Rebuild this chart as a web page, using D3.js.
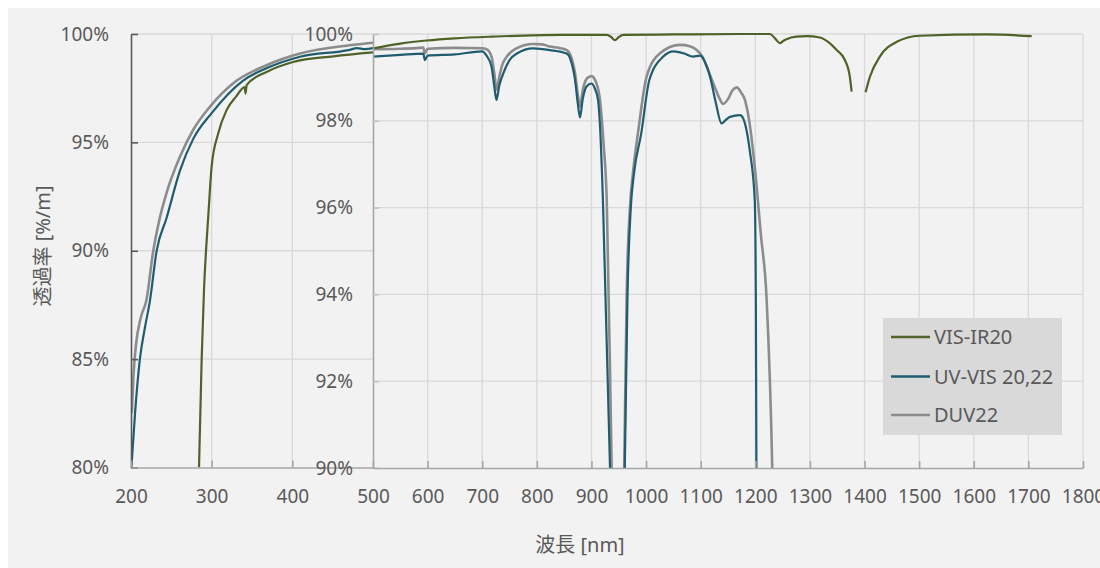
<!DOCTYPE html>
<html><head><meta charset="utf-8">
<script src="https://cdn.jsdelivr.net/npm/d3@7/dist/d3.min.js"></script>
<style>
body{margin:0;background:#fff;}
svg{display:block;}
text{font-family:"Noto Sans","Noto Sans CJK JP",sans-serif;fill:#595959;}
</style></head>
<body>
<svg id="chart" width="1100" height="568"></svg>
<script>
// ---------- DATA ----------
const seriesNames = ["VIS-IR20", "UV-VIS 20,22", "DUV22"];
const mainXTicks = [200, 300, 400];
const insetXTicks = [500,600,700,800,900,1000,1100,1200,1300,1400,1500,1600,1700,1800];
const mainYTicks = [80, 85, 90, 95, 100];
const insetYTicks = [90, 92, 94, 96, 98, 100];

// main panel (200-500 nm, 80-100 %)
const visIrMain = [[284.3,80],[287.6,85],[290.5,88.2],[293,90],[295.8,91.6],[300,93.9],[308,95.4],[318.6,96.5],[330,97.1],[341,97.55],[342,97.25],[343.5,97.65],[368,98.25],[401,98.71],[451,98.97],[500,99.15]];
const uvVisMain = [[200.5,80],[205,82.5],[211,85],[217,86.4],[223.5,87.7],[231.8,90],[244,91.5],[260.7,93.7],[277,95.15],[300,96.35],[339,97.85],[370,98.45],[409.5,98.95],[471,99.27],[480,99.35],[490,99.3],[500,99.35]];
const duvMain = [[201,82.5],[203,84.2],[206,85.6],[212,86.9],[219,87.7],[227.6,90],[235,91.4],[244,92.66],[260.7,94.34],[277,95.57],[298,96.65],[326.7,97.73],[368,98.56],[409.5,99.1],[471,99.48],[500,99.6]];

// inset panel (500-1800 nm, 90-100 %), null = gap
const visIrInset = [[500,99.67],[550,99.78],[598,99.85],[650,99.9],[720,99.94],[842,99.98],[928,99.98],[936,99.93],[943,99.86],[950,99.93],[958,99.98],[1050,99.99],[1172,100],[1227,100],[1236,99.9],[1245,99.79],[1251,99.84],[1257,99.88],[1275,99.94],[1294,99.95],[1318,99.92],[1335,99.8],[1349,99.63],[1364,99.4],[1373,99.02],[1376.4,98.67],null,[1402,98.66],[1410,99.02],[1428,99.48],[1459,99.82],[1501,99.96],[1624,99.99],[1706,99.95]];
const uvVisInset = [[500,99.48],[550,99.52],[592,99.55],[595,99.4],[600,99.5],[650,99.53],[700,99.6],[708,99.5],[717,99.25],[722,98.8],[726,98.48],[731,98.8],[741,99.17],[750,99.4],[763.6,99.55],[793.5,99.67],[824,99.63],[854.6,99.55],[862,99.4],[870,98.94],[875,98.4],[879,98.08],[884,98.5],[891,98.79],[900,98.86],[906,98.75],[912,98.48],[916,97.8],[921,96.17],[934,90],[937,88],null,[958,88],[961,90],[966,94],[972,96],[978,96.8],[991,97.7],[1006,98.94],[1031.5,99.48],[1050,99.6],[1070,99.55],[1086,99.48],[1099,99.5],[1108,99.35],[1117,99.02],[1128,98.4],[1138,97.94],[1146,98.02],[1153.6,98.09],[1172,98.13],[1178,98.05],[1181,97.94],[1190,97.3],[1199,96.17],[1201,93.87],[1202,90],[1203,88]];
const duvInset = [[500,99.65],[550,99.66],[585,99.68],[592,99.69],[595,99.55],[600,99.66],[650,99.68],[700,99.67],[708,99.65],[717,99.48],[722,99.1],[726.5,98.71],[731,99.0],[737,99.3],[745,99.48],[760,99.65],[793.5,99.77],[810,99.76],[824,99.71],[840,99.68],[854.6,99.63],[862,99.5],[870,99.09],[875,98.6],[879,98.32],[884,98.7],[892,98.98],[900,99.03],[908,98.9],[915.6,98.48],[922,97.5],[928,96.17],[937,90],[940,88],null,[957,88],[960,90],[964.5,94],[970.5,96],[976,96.8],[986,97.8],[1001,99.02],[1025,99.55],[1062,99.75],[1080,99.72],[1092.6,99.63],[1102,99.5],[1111,99.25],[1125,98.8],[1135,98.5],[1141,98.39],[1150,98.5],[1158,98.7],[1166,98.77],[1174,98.65],[1181,98.48],[1190,97.9],[1199,96.94],[1210,95.4],[1220.8,93.87],[1231,90],[1234,88]];

const colors = ["#4f6228", "#1f5c6e", "#8c8c8c"];

// ---------- DRAW ----------
const svg = d3.select("#chart");
svg.append("rect").attr("x",8).attr("y",8).attr("width",1092).attr("height",560).attr("fill","#f2f2f2");

const xMain = d3.scaleLinear([200,500],[131,373]);
const yMain = d3.scaleLinear([80,100],[467.5,34]);
const xIn = d3.scaleLinear([500,1800],[373,1083]);
const yIn = d3.scaleLinear([90,100],[468,34]);

const defs = svg.append("defs");
defs.append("clipPath").attr("id","clipMain").append("rect")
  .attr("x",xMain(200)).attr("y",20).attr("width",xMain(500)-xMain(200)).attr("height",yMain(80)-20);
defs.append("clipPath").attr("id","clipIn").append("rect")
  .attr("x",xIn(500)).attr("y",yIn(100)-3).attr("width",xIn(1800)-xIn(500)).attr("height",yIn(90)-yIn(100)+3);

const grid = "#d9d9d9";
// main gridlines
const gMain = svg.append("g");
gMain.selectAll(".hy").data(mainYTicks.filter(d=>d>80)).join("line")
  .attr("x1",xMain(200)).attr("x2",xMain(500)).attr("y1",d=>yMain(d)).attr("y2",d=>yMain(d))
  .attr("stroke",grid).attr("stroke-width",1.3);
gMain.selectAll(".vx").data([300,400]).join("line")
  .attr("x1",d=>xMain(d)).attr("x2",d=>xMain(d)).attr("y1",yMain(100)).attr("y2",yMain(80))
  .attr("stroke",grid).attr("stroke-width",1.3);

const lineMain = d3.line().defined(d=>d!==null).x(d=>xMain(d[0])).y(d=>yMain(d[1])).curve(d3.curveMonotoneX);
const lineIn = d3.line().defined(d=>d!==null).x(d=>xIn(d[0])).y(d=>yIn(d[1])).curve(d3.curveMonotoneX);

const mainSeries = [duvMain, uvVisMain, visIrMain];
const mainColors = [colors[2], colors[1], colors[0]];
const mainWidths = [2.6, 2.2, 2.2];
mainSeries.forEach((s,i)=>{
  svg.append("path").attr("d",lineMain(s)).attr("fill","none")
    .attr("stroke",mainColors[i]).attr("stroke-width",mainWidths[i]).attr("clip-path","url(#clipMain)");
});

const numFmt = d3.format("d");

// main axes
const axL = svg.append("g").attr("transform",`translate(${xMain(200)},0)`)
  .call(d3.axisLeft(yMain).tickValues(mainYTicks).tickSizeInner(-7).tickSizeOuter(0).tickPadding(22).tickFormat(d=>d+"%"));
axL.select(".domain").attr("stroke","#595959").attr("stroke-width",1.6);
axL.selectAll(".tick line").attr("stroke","#595959").attr("stroke-width",1.6);
axL.selectAll("text").attr("font-size",19).attr("fill","#595959").attr("font-family",null);

const axB = svg.append("g").attr("transform",`translate(0,${yMain(80)})`)
  .call(d3.axisBottom(xMain).tickValues(mainXTicks).tickSizeInner(-7).tickSizeOuter(0).tickPadding(22).tickFormat(numFmt));
axB.select(".domain").attr("stroke","#a6a6a6").attr("stroke-width",1.6);
axB.selectAll(".tick line").attr("stroke","#a6a6a6").attr("stroke-width",1.6);
axB.selectAll("text").attr("font-size",19).attr("fill","#595959").attr("font-family",null);

// ---------- INSET ----------
svg.append("rect").attr("x",xIn(500)).attr("y",yIn(100)).attr("width",xIn(1800)-xIn(500)).attr("height",yIn(90)-yIn(100)).attr("fill","#f2f2f2");
const gIn = svg.append("g");
gIn.selectAll(".hy").data(insetYTicks.filter(d=>d>90)).join("line")
  .attr("x1",xIn(500)).attr("x2",xIn(1800)).attr("y1",d=>yIn(d)).attr("y2",d=>yIn(d))
  .attr("stroke",grid).attr("stroke-width",1.3);
gIn.selectAll(".vx").data(insetXTicks.filter(d=>d>500)).join("line")
  .attr("x1",d=>xIn(d)).attr("x2",d=>xIn(d)).attr("y1",yIn(100)).attr("y2",yIn(90))
  .attr("stroke",grid).attr("stroke-width",1.3);

const inSeries = [visIrInset, uvVisInset, duvInset];
const inWidths = [2.2, 2.2, 2.6];
// draw gray first, then teal, then green on top
[2,1,0].forEach(i=>{
  svg.append("path").attr("d",lineIn(inSeries[i])).attr("fill","none")
    .attr("stroke",colors[i]).attr("stroke-width",inWidths[i]).attr("clip-path","url(#clipIn)");
});

const iaL = svg.append("g").attr("transform",`translate(${xIn(500)},0)`)
  .call(d3.axisLeft(yIn).tickValues(insetYTicks).tickSizeInner(-6).tickSizeOuter(0).tickPadding(20).tickFormat(d=>d+"%"));
iaL.select(".domain").attr("stroke","#a6a6a6").attr("stroke-width",1.6);
iaL.selectAll(".tick line").attr("stroke","#bfbfbf").attr("stroke-width",1.4);
iaL.selectAll("text").attr("font-size",19).attr("fill","#595959").attr("font-family",null);

const iaB = svg.append("g").attr("transform",`translate(0,${yIn(90)})`)
  .call(d3.axisBottom(xIn).tickValues(insetXTicks).tickSizeInner(-7).tickSizeOuter(0).tickPadding(22).tickFormat(numFmt));
iaB.select(".domain").attr("stroke","#a6a6a6").attr("stroke-width",1.6);
iaB.selectAll(".tick line").attr("stroke","#a6a6a6").attr("stroke-width",1.6);
iaB.selectAll("text").attr("font-size",19).attr("fill","#595959").attr("font-family",null);

// axis titles
svg.append("text").attr("x",580).attr("y",552).attr("text-anchor","middle").attr("font-size",20).text("波長 [nm]");
svg.append("text").attr("transform","translate(50,246) rotate(-90)").attr("text-anchor","middle").attr("font-size",20).text("透過率 [%/m]");

// legend
const lg = svg.append("g");
lg.append("rect").attr("x",883).attr("y",318).attr("width",179).attr("height",117).attr("fill","#d9d9d9");
const rowY = [337, 376.5, 415];
seriesNames.forEach((n,i)=>{
  lg.append("line").attr("x1",891).attr("x2",930).attr("y1",rowY[i]).attr("y2",rowY[i])
    .attr("stroke",colors[i]).attr("stroke-width",2.4);
  lg.append("text").attr("x",934).attr("y",rowY[i]).attr("dy","0.35em").attr("font-size",20).text(n);
});
</script>
</body></html>
